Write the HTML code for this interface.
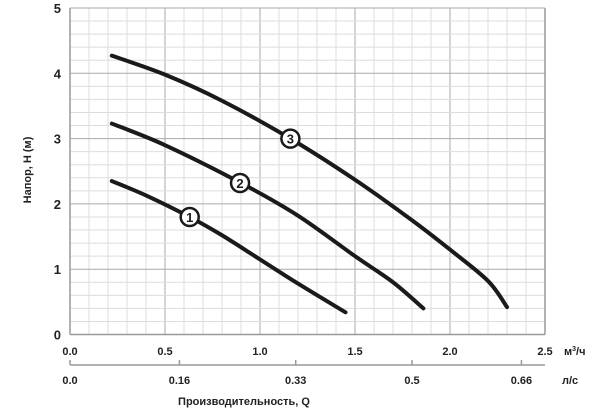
<!DOCTYPE html>
<html><head><meta charset="utf-8"><style>
body{margin:0;background:#fff;}
svg{display:block;font-family:"Liberation Sans",Arial,sans-serif;}
</style></head><body>
<svg id="c" width="600" height="409" viewBox="0 0 600 409"></svg>
<script>
const xTicks=[0.0,0.5,1.0,1.5,2.0,2.5];
const yTicks=[0,1,2,3,4,5];
const lsTicks=[0.0,0.16,0.33,0.5,0.66];
const curve1X=[0.22,0.4,0.63,0.8,1.0,1.2,1.45];
const curve1Y=[2.35,2.13,1.8,1.52,1.15,0.78,0.34];
const curve2X=[0.22,0.5,0.9,1.2,1.5,1.7,1.86];
const curve2Y=[3.23,2.9,2.32,1.82,1.2,0.8,0.4];
const curve3X=[0.22,0.5,0.8,1.16,1.5,1.8,2.0,2.2,2.3];
const curve3Y=[4.27,3.98,3.58,3.0,2.37,1.75,1.3,0.82,0.42];
const labelPos=[[0.63,1.8],[0.895,2.32],[1.16,3.0]];
const labelText=["1","2","3"];

const X0=70,X1=545,Y0=334.5,Y1=8;
const sx=v=>X0+(v/2.5)*(X1-X0);
const sy=v=>Y0-(v/5)*(Y0-Y1);
const sl=v=>sx(v*3.6);
const NS="http://www.w3.org/2000/svg";
const svg=document.getElementById('c');
function mk(t,a,p){const e=document.createElementNS(NS,t);for(const k in a)e.setAttribute(k,a[k]);(p||svg).appendChild(e);return e;}

const grid=mk('g',{});


for(let i=1;i<25;i++){const x=sx(i*0.1);mk('line',{x1:x,x2:x,y1:Y1,y2:Y0,stroke:i%5?'#ddd':'#aaa','stroke-width':1},grid);}
for(let i=1;i<25;i++){const y=sy(i*0.2);mk('line',{x1:X0,x2:X1,y1:y,y2:y,stroke:i%5?'#ddd':'#aaa','stroke-width':1},grid);}
const ax=mk('g',{stroke:'#999','stroke-width':1.5});


mk('line',{x1:X0,x2:X0,y1:Y1,y2:Y0},ax);
mk('line',{x1:X0,x2:X1,y1:Y0,y2:Y0},ax);
mk('line',{x1:X1,x2:X1,y1:Y1,y2:Y0},ax);
mk('line',{x1:X0,x2:X1,y1:Y1,y2:Y1,stroke:'#aaa','stroke-width':1},ax);
mk('line',{x1:X0,x2:X1,y1:365,y2:365},ax);

yTicks.forEach(v=>{const t=mk('text',{x:61,y:sy(v)+5,'text-anchor':'end','font-size':13,'font-weight':'bold',fill:'#222'});t.textContent=v;

});
xTicks.forEach(v=>{const t=mk('text',{x:sx(v),y:355,'text-anchor':'middle','font-size':11,'font-weight':'bold',fill:'#222'});t.textContent=v.toFixed(1);

});
lsTicks.forEach(v=>{const x=sl(v);mk('line',{x1:x,x2:x,y1:360,y2:365,stroke:'#999','stroke-width':1.5});
const t=mk('text',{x:x,y:384,'text-anchor':'middle','font-size':11,'font-weight':'bold',fill:'#222'});t.textContent=(v===0?'0.0':String(v));

});
let t=mk('text',{x:564,y:355,'font-size':11,'font-weight':'bold',fill:'#222'});t.innerHTML='м<tspan font-size="7" dy="-4">3</tspan><tspan dy="4">/ч</tspan>';


t=mk('text',{x:562,y:384,'font-size':11,'font-weight':'bold',fill:'#222'});t.textContent='л/с';


t=mk('text',{x:244,y:405,'text-anchor':'middle','font-size':11,'font-weight':'bold',fill:'#222'});t.textContent='Производительность, Q';


t=mk('text',{x:0,y:0,'text-anchor':'middle','font-size':11,'font-weight':'bold',fill:'#222',transform:'translate(31,170) rotate(-90)'});t.textContent='Напор, H (м)';



function path(xs,ys){const p=xs.map((x,i)=>[sx(x),sy(ys[i])]);let d='M'+p[0][0]+','+p[0][1];
for(let i=0;i<p.length-1;i++){const a=p[Math.max(0,i-1)],b=p[i],c=p[i+1],e=p[Math.min(p.length-1,i+2)];
d+=' C'+(b[0]+(c[0]-a[0])/6)+','+(b[1]+(c[1]-a[1])/6)+' '+(c[0]-(e[0]-b[0])/6)+','+(c[1]-(e[1]-b[1])/6)+' '+c[0]+','+c[1];}return d;}
[[curve1X,curve1Y],[curve2X,curve2Y],[curve3X,curve3Y]].forEach((c,i)=>{const e=mk('path',{d:path(c[0],c[1]),fill:'none',stroke:'#1a1a1a','stroke-width':4,'stroke-linecap':'round'});

});
labelPos.forEach((p,i)=>{const g=mk('g',{});


mk('circle',{cx:sx(p[0]),cy:sy(p[1]),r:9,fill:'#fff',stroke:'#1a1a1a','stroke-width':2.5},g);
const tt=mk('text',{x:sx(p[0]),y:sy(p[1])+5,'text-anchor':'middle','font-size':13,'font-weight':'bold',fill:'#1a1a1a'},g);tt.textContent=labelText[i];});
</script>
</body></html>
